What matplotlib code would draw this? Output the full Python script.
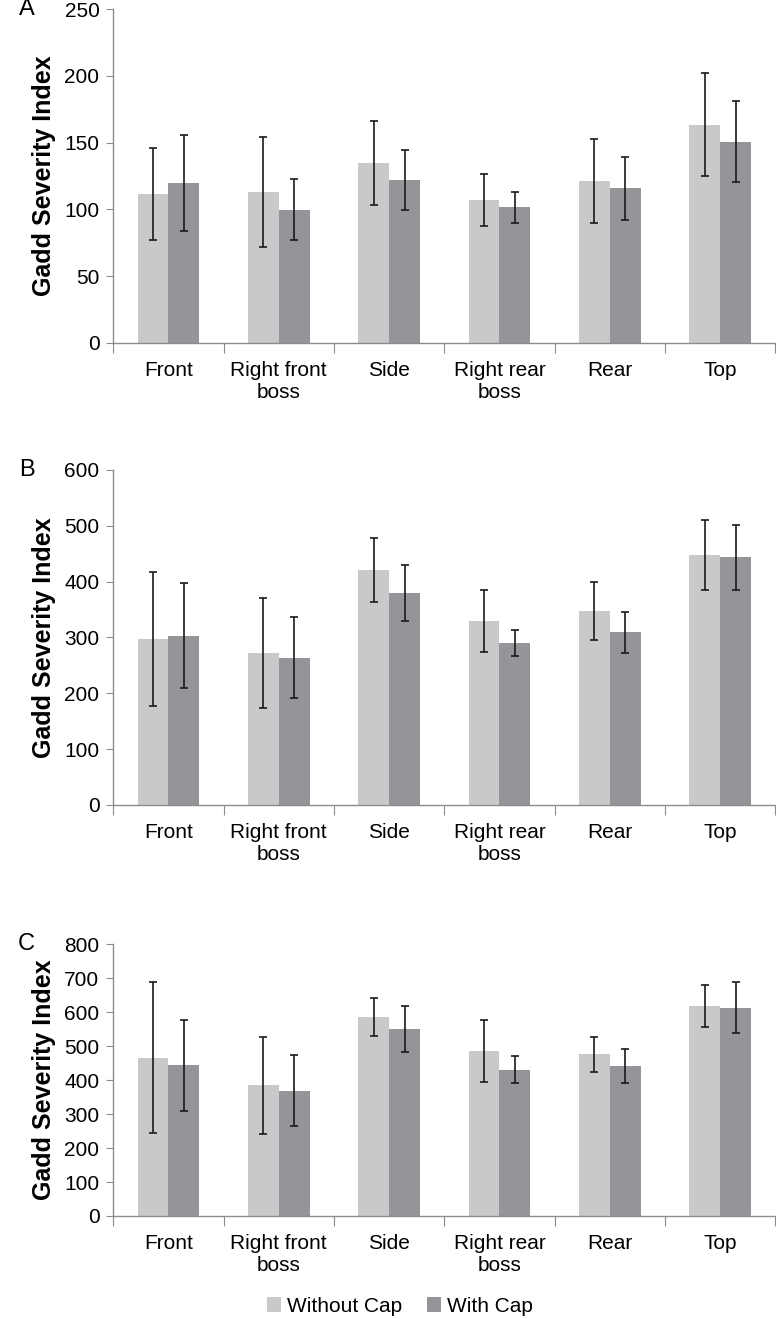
import numpy as np
import matplotlib
matplotlib.use("Agg")
import matplotlib.pyplot as plt

plt.rcParams['font.family'] = ['Liberation Sans', 'DejaVu Sans']

categories = ["Front", "Right front\nboss", "Side", "Right rear\nboss", "Rear", "Top"]

# panel A
a_without = [111.7, 112.9, 134.7, 107.2, 121.6, 163.3]
a_without_err = [34.6, 41.2, 31.3, 19.4, 31.5, 38.6]
a_with = [119.6, 99.8, 122.0, 101.5, 115.9, 150.6]
a_with_err = [36.1, 22.7, 22.5, 11.5, 23.7, 30.4]

# panel B
b_without = [297.2, 272.1, 421.0, 329.5, 348.0, 448.0]
b_without_err = [120.0, 98.4, 57.7, 55.0, 51.7, 62.5]
b_with = [303.2, 263.8, 379.8, 290.7, 309.2, 443.8]
b_with_err = [93.6, 72.0, 50.8, 23.0, 37.0, 58.3]

# panel C
c_without = [466.5, 384.8, 585.5, 485.1, 475.8, 619.0]
c_without_err = [221.0, 142.6, 55.3, 90.6, 50.6, 62.3]
c_with = [443.3, 369.0, 549.3, 431.2, 441.4, 612.5]
c_with_err = [135.0, 105.0, 67.9, 39.0, 49.7, 75.2]

panels = [
    ("A", a_without, a_without_err, a_with, a_with_err, 250, 50, [0.146, 0.740, 0.853, 0.253]),
    ("B", b_without, b_without_err, b_with, b_with_err, 600, 100, [0.146, 0.3897, 0.853, 0.254]),
    ("C", c_without, c_without_err, c_with, c_with_err, 800, 100, [0.146, 0.0781, 0.853, 0.206]),
]

light = '#c8c9cb'
dark = '#939598'
spine_col = '#8c8c8c'
w = 0.28

fig = plt.figure(figsize=(7.76, 13.19), dpi=100)

for letter, wo, wo_e, wi, wi_e, ymax, step, rect in panels:
    ax = fig.add_axes(rect)
    x = np.arange(len(categories))
    ekw = dict(elinewidth=1.2, capthick=1.2, ecolor='#1a1a1a')
    ax.bar(x - w / 2, wo, w, yerr=wo_e, capsize=3, color=light, error_kw=ekw, label='Without Cap')
    ax.bar(x + w / 2, wi, w, yerr=wi_e, capsize=3, color=dark, error_kw=ekw, label='With Cap')

    ax.set_xlim(-0.5, len(categories) - 0.5)
    ax.set_ylim(0, ymax)
    ax.set_yticks(np.arange(0, ymax + 1, step))
    ax.tick_params(axis='y', labelsize=15, length=5, color=spine_col, pad=5)

    # category boundaries as major ticks, labels on minor ticks
    ax.set_xticks(np.arange(-0.5, len(categories), 1.0))
    ax.set_xticklabels([])
    ax.tick_params(axis='x', which='major', length=7, color=spine_col, direction='out')
    ax.set_xticks(x, minor=True)
    ax.set_xticklabels(categories, minor=True, fontsize=15, linespacing=1.2)
    ax.tick_params(axis='x', which='minor', length=0, pad=13)

    for s in ['top', 'right']:
        ax.spines[s].set_visible(False)
    for s in ['left', 'bottom']:
        ax.spines[s].set_color(spine_col)
        ax.spines[s].set_linewidth(1.0)

    ax.set_ylabel('Gadd Severity Index', fontsize=18, fontweight='bold', labelpad=6)
    ax.text(-0.131, 1.0, letter, transform=ax.transAxes, fontsize=17,
            ha='center', va='center')

handles, labels = ax.get_legend_handles_labels()
fig.legend(handles, labels, loc='center', bbox_to_anchor=(0.515, 0.0095), ncol=2,
           frameon=False, fontsize=15, handlelength=0.7, handleheight=0.7,
           handletextpad=0.25, columnspacing=1.2)

fig.savefig('out.png', dpi=100)
